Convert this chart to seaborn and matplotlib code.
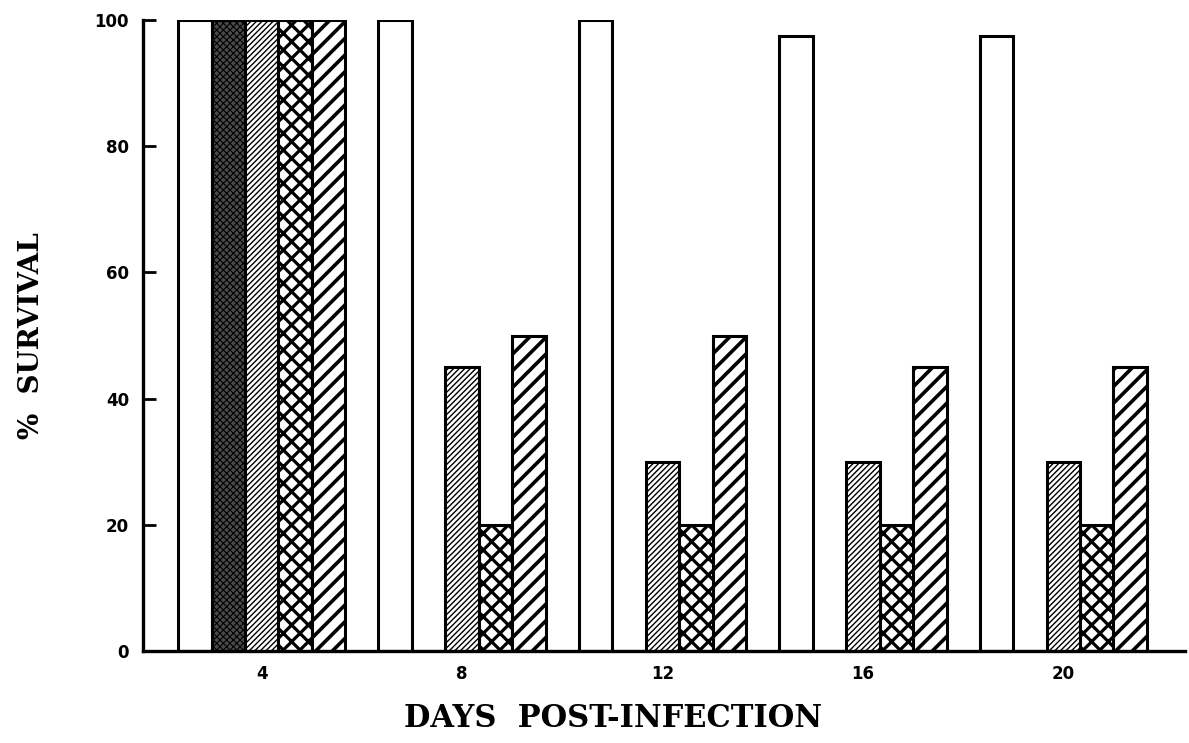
import pandas as pd
import numpy as np
import matplotlib as mpl
import matplotlib.pyplot as plt
import seaborn as sns

# data
days = [4, 8, 12, 16, 20]
groups = ['A', 'B', 'C', 'D', 'E']
surv_a = [100, 100, 100, 97.5, 97.5]   # open bars
surv_b = [100, 0, 0, 0, 0]             # dark stippled
surv_c = [100, 45, 30, 30, 30]         # fine hatch
surv_d = [100, 20, 20, 20, 20]         # cross hatch
surv_e = [100, 50, 50, 45, 45]         # wide hatch

df = pd.DataFrame({
    'day': days * 5,
    'group': np.repeat(groups, len(days)),
    'survival': surv_a + surv_b + surv_c + surv_d + surv_e,
})

sns.set_style('ticks')
plt.rcParams['font.family'] = ['DejaVu Sans']
plt.rcParams['axes.edgecolor'] = 'black'
plt.rcParams['xtick.color'] = 'black'
plt.rcParams['ytick.color'] = 'black'
plt.rcParams['axes.labelcolor'] = 'black'

fig = plt.figure(figsize=(11.89, 7.43), dpi=100)
ax = fig.add_axes([0.1203, 0.1238, 0.8763, 0.8493])

sns.barplot(data=df, x='day', y='survival', hue='group', hue_order=groups,
            palette=['white'] * 5, width=0.835, gap=0, edgecolor='black',
            linewidth=2.2, legend=False, ax=ax, saturation=1, errorbar=None)

styles = [
    ('white', '', 1.0),
    ('#4a4a4a', 'xxxxx', 0.8),
    ('white', '//////', 1.0),
    ('white', 'xx', 2.3),
    ('white', '//', 2.6),
]
for cont, (fc, hatch, hlw) in zip(ax.containers, styles):
    for p in cont:
        p.set_facecolor(fc)
        p.set_hatch(hatch)
        if hasattr(p, 'set_hatch_linewidth'):
            p.set_hatch_linewidth(hlw)

ax.set_xlim(-0.5925, 4.6075)
ax.set_ylim(0, 100)
ax.set_yticks([0, 20, 40, 60, 80, 100])
sns.despine(ax=ax)
for s in ['left', 'bottom']:
    ax.spines[s].set_linewidth(2.4)
ax.tick_params(axis='y', direction='in', length=9, width=2, labelsize=12, pad=10)
ax.tick_params(axis='x', length=0, labelsize=12, pad=10)
for lab in ax.get_xticklabels() + ax.get_yticklabels():
    lab.set_fontweight('bold')

ax.set_xlabel('DAYS  POST-INFECTION', fontsize=22, fontweight='bold',
              family='DejaVu Serif')
ax.xaxis.set_label_coords(0.451, -0.083)
ax.set_ylabel('%  SURVIVAL', fontsize=20, fontweight='bold',
              family='DejaVu Serif', labelpad=36)

fig.savefig('out.png', dpi=100)
